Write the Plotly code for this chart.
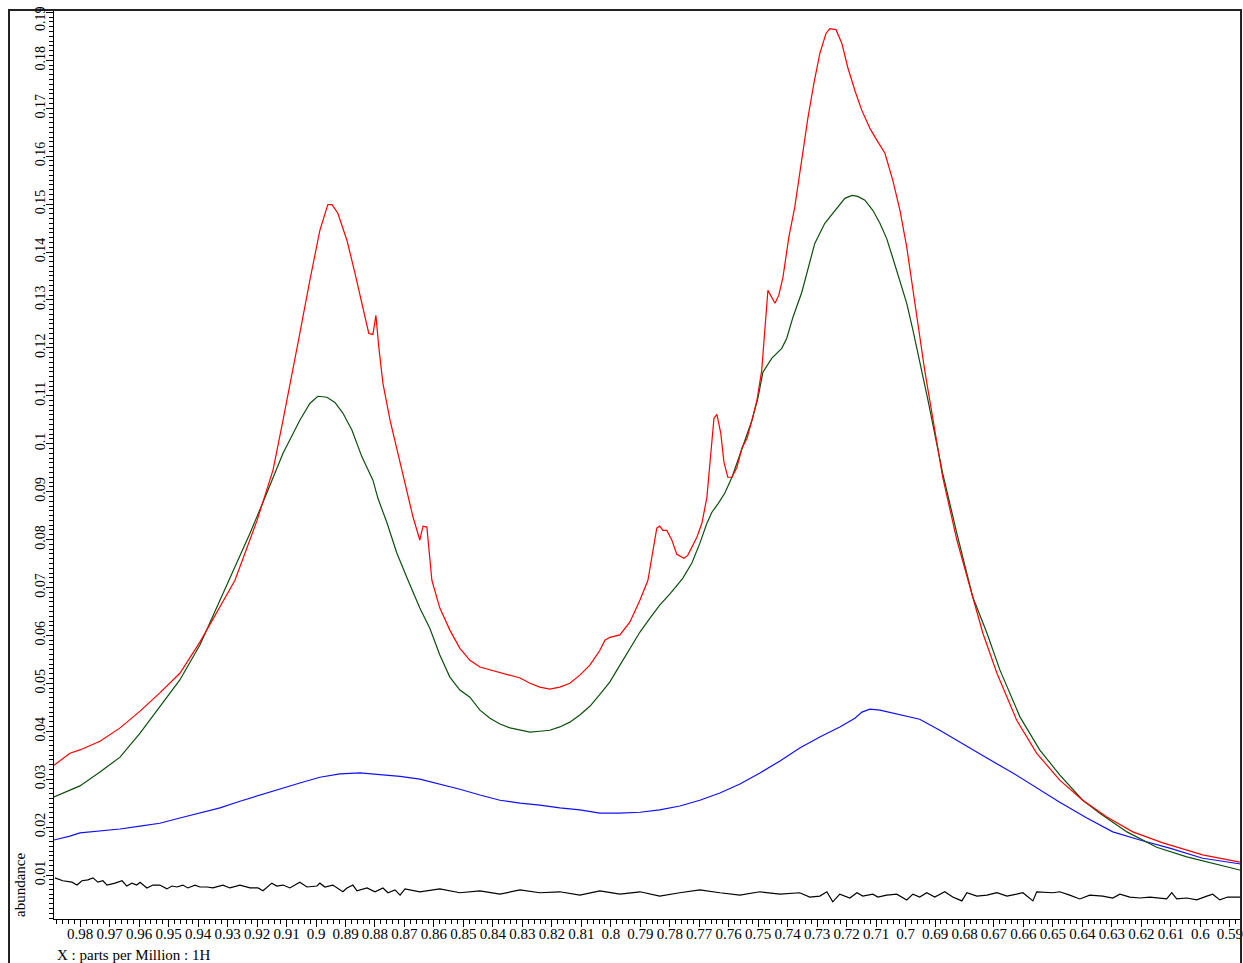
import plotly.graph_objects as go

# ---------------- data (ppm, abundance) ----------------
red_ppm = [0.9889, 0.9835, 0.9801, 0.9733, 0.9665, 0.9597, 0.9530, 0.9462, 0.9394, 0.9326,
           0.9275, 0.9200, 0.9146, 0.9112, 0.9078, 0.9055, 0.9021, 0.8987, 0.8960, 0.8946,
           0.8926, 0.8895, 0.8868, 0.8844, 0.8821, 0.8807, 0.8797, 0.8787, 0.8773, 0.8749,
           0.8715, 0.8671, 0.8648, 0.8637, 0.8624, 0.8607, 0.8580, 0.8546, 0.8512, 0.8478,
           0.8444, 0.8410, 0.8376, 0.8342, 0.8308, 0.8274, 0.8241, 0.8207, 0.8173, 0.8139,
           0.8105, 0.8071, 0.8037, 0.8020, 0.8003, 0.7969, 0.7935, 0.7901, 0.7874, 0.7844,
           0.7834, 0.7823, 0.7810, 0.7793, 0.7776, 0.7752, 0.7739, 0.7708, 0.7691, 0.7674,
           0.7650, 0.7640, 0.7627, 0.7616, 0.7603, 0.7589, 0.7572, 0.7555, 0.7538, 0.7521,
           0.7504, 0.7488, 0.7467, 0.7443, 0.7430, 0.7416, 0.7396, 0.7376, 0.7352, 0.7331,
           0.7311, 0.7291, 0.7270, 0.7257, 0.7236, 0.7216, 0.7196, 0.7172, 0.7148, 0.7121,
           0.7097, 0.7070, 0.7043, 0.7019, 0.6996, 0.6975, 0.6952, 0.6935, 0.6918, 0.6874,
           0.6826, 0.6782, 0.6738, 0.6690, 0.6623, 0.6555, 0.6477, 0.6399, 0.6317, 0.6229,
           0.6127, 0.5992, 0.5866]
red_val = [0.0329, 0.0354, 0.0361, 0.0379, 0.0407, 0.0442, 0.0480, 0.0521, 0.0586, 0.0659,
           0.0715, 0.0840, 0.0945, 0.1049, 0.1153, 0.1230, 0.1341, 0.1445, 0.1499, 0.1499,
           0.1481, 0.1424, 0.1356, 0.1293, 0.1230, 0.1228, 0.1268, 0.1201, 0.1126, 0.1049,
           0.0959, 0.0847, 0.0799, 0.0828, 0.0826, 0.0715, 0.0657, 0.0611, 0.0573, 0.0548,
           0.0534, 0.0528, 0.0523, 0.0517, 0.0511, 0.0500, 0.0492, 0.0488, 0.0492, 0.0500,
           0.0517, 0.0538, 0.0569, 0.0590, 0.0596, 0.0601, 0.0628, 0.0674, 0.0715, 0.0824,
           0.0828, 0.0819, 0.0819, 0.0799, 0.0769, 0.0761, 0.0767, 0.0805, 0.0834, 0.0888,
           0.1053, 0.1061, 0.1022, 0.0961, 0.0930, 0.0930, 0.0951, 0.0991, 0.1011, 0.1049,
           0.1091, 0.1153, 0.1320, 0.1293, 0.1310, 0.1347, 0.1431, 0.1493, 0.1591, 0.1681,
           0.1752, 0.1814, 0.1856, 0.1866, 0.1864, 0.1835, 0.1785, 0.1737, 0.1695, 0.1658,
           0.1633, 0.1606, 0.1549, 0.1487, 0.1410, 0.1320, 0.1222, 0.1153, 0.1091, 0.0930,
           0.0799, 0.0701, 0.0605, 0.0521, 0.0423, 0.0354, 0.0298, 0.0256, 0.0221, 0.0190,
           0.0167, 0.0142, 0.0127]

green_ppm = [0.9889, 0.9835, 0.9801, 0.9733, 0.9665, 0.9597, 0.9530, 0.9462, 0.9394, 0.9292,
             0.9224, 0.9167, 0.9112, 0.9055, 0.9021, 0.8994, 0.8963, 0.8936, 0.8909, 0.8878,
             0.8844, 0.8807, 0.8790, 0.8760, 0.8726, 0.8688, 0.8648, 0.8614, 0.8580, 0.8546,
             0.8512, 0.8478, 0.8444, 0.8410, 0.8376, 0.8342, 0.8308, 0.8274, 0.8241, 0.8207,
             0.8173, 0.8139, 0.8105, 0.8071, 0.8037, 0.8003, 0.7969, 0.7935, 0.7901, 0.7867,
             0.7834, 0.7800, 0.7756, 0.7725, 0.7698, 0.7674, 0.7657, 0.7637, 0.7613, 0.7589,
             0.7569, 0.7545, 0.7521, 0.7501, 0.7484, 0.7454, 0.7420, 0.7403, 0.7382, 0.7352,
             0.7331, 0.7308, 0.7274, 0.7240, 0.7206, 0.7182, 0.7162, 0.7138, 0.7111, 0.7087,
             0.7064, 0.7043, 0.7019, 0.6996, 0.6975, 0.6945, 0.6924, 0.6874, 0.6826, 0.6772,
             0.6724, 0.6680, 0.6612, 0.6545, 0.6477, 0.6399, 0.6341, 0.6249, 0.6148, 0.6046,
             0.5934, 0.5863]
green_val = [0.0263, 0.0277, 0.0286, 0.0315, 0.0346, 0.0396, 0.0450, 0.0507, 0.0580, 0.0721,
             0.0813, 0.0897, 0.0980, 0.1049, 0.1084, 0.1099, 0.1097, 0.1086, 0.1064, 0.1028,
             0.0972, 0.0924, 0.0886, 0.0836, 0.0772, 0.0715, 0.0657, 0.0615, 0.0559, 0.0513,
             0.0486, 0.0471, 0.0444, 0.0427, 0.0415, 0.0407, 0.0402, 0.0398, 0.0400, 0.0402,
             0.0409, 0.0419, 0.0434, 0.0452, 0.0477, 0.0503, 0.0538, 0.0573, 0.0607, 0.0636,
             0.0663, 0.0686, 0.0719, 0.0751, 0.0792, 0.0834, 0.0857, 0.0874, 0.0897, 0.0930,
             0.0965, 0.1003, 0.1049, 0.1095, 0.1149, 0.1178, 0.1199, 0.1220, 0.1264, 0.1316,
             0.1366, 0.1418, 0.1460, 0.1487, 0.1512, 0.1518, 0.1516, 0.1508, 0.1487, 0.1460,
             0.1428, 0.1387, 0.1341, 0.1293, 0.1237, 0.1153, 0.1091, 0.0938, 0.0813, 0.0680,
             0.0605, 0.0528, 0.0430, 0.0361, 0.0309, 0.0256, 0.0229, 0.0190, 0.0158, 0.0138,
             0.0121, 0.0110]

blue_ppm = [0.9889, 0.9835, 0.9801, 0.9733, 0.9665, 0.9597, 0.9530, 0.9462, 0.9394, 0.9326,
            0.9258, 0.9190, 0.9122, 0.9055, 0.8987, 0.8919, 0.8851, 0.8783, 0.8715, 0.8648,
            0.8580, 0.8512, 0.8444, 0.8376, 0.8308, 0.8241, 0.8173, 0.8105, 0.8037, 0.7969,
            0.7901, 0.7834, 0.7766, 0.7698, 0.7630, 0.7562, 0.7494, 0.7426, 0.7359, 0.7291,
            0.7223, 0.7172, 0.7148, 0.7121, 0.7087, 0.7019, 0.6952, 0.6884, 0.6816, 0.6724,
            0.6636, 0.6555, 0.6477, 0.6385, 0.6297, 0.6205, 0.6104, 0.5992, 0.5863]
blue_val = [0.0173, 0.0181, 0.0188, 0.0192, 0.0196, 0.0202, 0.0208, 0.0219, 0.0229, 0.0240,
            0.0254, 0.0267, 0.0279, 0.0292, 0.0304, 0.0311, 0.0313, 0.0309, 0.0306, 0.0300,
            0.0290, 0.0279, 0.0267, 0.0256, 0.0250, 0.0246, 0.0240, 0.0236, 0.0229, 0.0229,
            0.0231, 0.0236, 0.0244, 0.0256, 0.0271, 0.0290, 0.0313, 0.0338, 0.0365, 0.0388,
            0.0409, 0.0427, 0.0440, 0.0446, 0.0444, 0.0434, 0.0425, 0.0402, 0.0377, 0.0344,
            0.0313, 0.0281, 0.0252, 0.0219, 0.0190, 0.0173, 0.0156, 0.0135, 0.0123]

black_ppm = [0.9886, 0.9859, 0.9828, 0.9811, 0.9794, 0.9774, 0.9757, 0.9740, 0.9723, 0.9709,
             0.9682, 0.9658, 0.9642, 0.9625, 0.9608, 0.9597, 0.9574, 0.9553, 0.9530, 0.9506,
             0.9489, 0.9472, 0.9452, 0.9435, 0.9411, 0.9394, 0.9370, 0.9350, 0.9316, 0.9292,
             0.9258, 0.9224, 0.9197, 0.9180, 0.9150, 0.9133, 0.9112, 0.9089, 0.9055, 0.9031,
             0.8997, 0.8987, 0.8970, 0.8943, 0.8909, 0.8895, 0.8875, 0.8861, 0.8827, 0.8800,
             0.8773, 0.8756, 0.8732, 0.8715, 0.8698, 0.8671, 0.8648, 0.8580, 0.8512, 0.8444,
             0.8376, 0.8308, 0.8241, 0.8173, 0.8105, 0.8037, 0.7969, 0.7901, 0.7834, 0.7766,
             0.7698, 0.7630, 0.7562, 0.7494, 0.7426, 0.7359, 0.7325, 0.7291, 0.7267, 0.7247,
             0.7223, 0.7189, 0.7165, 0.7145, 0.7111, 0.7094, 0.7064, 0.7030, 0.6996, 0.6975,
             0.6952, 0.6928, 0.6901, 0.6867, 0.6840, 0.6809, 0.6792, 0.6758, 0.6724, 0.6690,
             0.6656, 0.6623, 0.6602, 0.6568, 0.6555, 0.6500, 0.6477, 0.6443, 0.6409, 0.6375,
             0.6331, 0.6297, 0.6273, 0.6239, 0.6205, 0.6171, 0.6114, 0.6097, 0.6080, 0.6046,
             0.6012, 0.5978, 0.5958, 0.5934, 0.5907, 0.5863]
black_val = [0.0094, 0.0088, 0.0085, 0.0079, 0.0088, 0.0090, 0.0094, 0.0085, 0.0088, 0.0079,
             0.0083, 0.0088, 0.0077, 0.0083, 0.0079, 0.0085, 0.0073, 0.0079, 0.0079, 0.0071,
             0.0077, 0.0075, 0.0079, 0.0073, 0.0079, 0.0075, 0.0075, 0.0073, 0.0079, 0.0073,
             0.0079, 0.0073, 0.0073, 0.0067, 0.0083, 0.0077, 0.0079, 0.0073, 0.0085, 0.0075,
             0.0077, 0.0083, 0.0075, 0.0079, 0.0065, 0.0073, 0.0079, 0.0067, 0.0073, 0.0065,
             0.0073, 0.0063, 0.0069, 0.0058, 0.0071, 0.0067, 0.0065, 0.0071, 0.0063, 0.0067,
             0.0060, 0.0069, 0.0063, 0.0065, 0.0058, 0.0067, 0.0060, 0.0065, 0.0056, 0.0063,
             0.0069, 0.0063, 0.0058, 0.0065, 0.0060, 0.0063, 0.0054, 0.0056, 0.0065, 0.0044,
             0.0060, 0.0052, 0.0063, 0.0056, 0.0060, 0.0054, 0.0058, 0.0060, 0.0048, 0.0060,
             0.0054, 0.0063, 0.0054, 0.0065, 0.0054, 0.0046, 0.0063, 0.0056, 0.0058, 0.0063,
             0.0056, 0.0060, 0.0063, 0.0046, 0.0065, 0.0063, 0.0065, 0.0058, 0.0050, 0.0058,
             0.0056, 0.0052, 0.0060, 0.0054, 0.0052, 0.0054, 0.0050, 0.0063, 0.0050, 0.0052,
             0.0048, 0.0056, 0.0060, 0.0048, 0.0054, 0.0054]

x_tickvals = [round(0.98 - 0.01 * i, 2) for i in range(40)]
x_ticktext = [f"{v:g}" for v in x_tickvals]
y_tickvals = [round(0.01 * i, 2) for i in range(1, 20)]
y_ticktext = [f"{v:g}" for v in y_tickvals]
# the top label sits just inside the frame in the reference, drawn separately below
TOP_Y_LABEL = y_ticktext[-1]
y_ticktext[-1] = ""

X_RANGE = [0.9889, 0.5862]
Y_RANGE = [0.00082, 0.1905]

FONT = "Liberation Serif"

fig = go.Figure()
series = [
    (black_ppm, black_val, "#000000"),
    (blue_ppm, blue_val, "#1010ff"),
    (green_ppm, green_val, "#0b4f0b"),
    (red_ppm, red_val, "#ff0000"),
]
for xs, ys, col in series:
    fig.add_trace(go.Scatter(x=xs, y=ys, mode="lines",
                             line=dict(color=col, width=1.2),
                             hoverinfo="skip", showlegend=False, cliponaxis=True))

W, H = 1243, 963
ML, MR, MT, MB = 54, 2, 10, 44
pw, ph = W - ML - MR, H - MT - MB

fig.update_layout(
    width=W, height=H,
    margin=dict(l=ML, r=MR, t=MT, b=MB, pad=0, autoexpand=False),
    paper_bgcolor="white", plot_bgcolor="white",
    font=dict(family=FONT, size=15, color="black"),
    showlegend=False,
    xaxis=dict(range=X_RANGE, tickmode="array", tickvals=x_tickvals, ticktext=x_ticktext,
               automargin=False, ticklabelstandoff=-6, ticklabeloverflow="allow",
               tickangle=0, ticks="outside", ticklen=7, tickcolor="black", tickwidth=1,
               showline=True, linecolor="black", linewidth=1, showgrid=False, zeroline=False,
               tickfont=dict(family=FONT, size=15, color="black"),
               minor=dict(tickmode="linear", tick0=0, dtick=0.002, ticks="outside",
                          ticklen=4, tickcolor="black", tickwidth=1, showgrid=False)),
    yaxis=dict(range=Y_RANGE, tickmode="array", tickvals=y_tickvals, ticktext=y_ticktext,
               automargin=False, ticklabelstandoff=-5, ticklabeloverflow="allow",
               tickangle=-90, ticks="outside", ticklen=7, tickcolor="black", tickwidth=1,
               showline=True, linecolor="black", linewidth=1, showgrid=False, zeroline=False,
               tickfont=dict(family=FONT, size=14, color="black"),
               minor=dict(tickmode="linear", tick0=0, dtick=0.001, ticks="outside",
                          ticklen=4, tickcolor="black", tickwidth=1, showgrid=False)),
)

# outer frame
fig.add_shape(type="rect", xref="paper", yref="paper",
              x0=(9 - ML) / pw, x1=1.0, y0=-(MB + 20) / ph, y1=1.0,
              line=dict(color="#222222", width=2), fillcolor="rgba(0,0,0,0)", layer="above")

fig.add_annotation(text=TOP_Y_LABEL, xref="paper", yref="paper",
                   x=(40 - ML) / pw, y=1 - (19 - MT) / ph, xanchor="center", yanchor="middle",
                   textangle=-90, showarrow=False, font=dict(family=FONT, size=14, color="black"))
fig.add_annotation(text="abundance", xref="paper", yref="paper",
                   x=(20 - ML) / pw, y=0.0, xanchor="center", yanchor="bottom",
                   textangle=-90, showarrow=False, font=dict(family=FONT, size=15, color="black"))
fig.add_annotation(text="X : parts per Million : 1H", xref="paper", yref="paper",
                   x=(55 - ML) / pw, y=-(955 - (H - MB)) / ph, xanchor="left", yanchor="middle",
                   showarrow=False, font=dict(family=FONT, size=15, color="black"))

# remove the page's default 8px body margin so the figure sits at the window origin
fig.write_html(
    "out.html",
    config={"displayModeBar": False},
    post_script=("document.documentElement.style.margin='0';"
                 "document.body.style.margin='0';"
                 "document.documentElement.style.overflow='hidden';"
                 "document.body.style.overflow='hidden';"),
)
